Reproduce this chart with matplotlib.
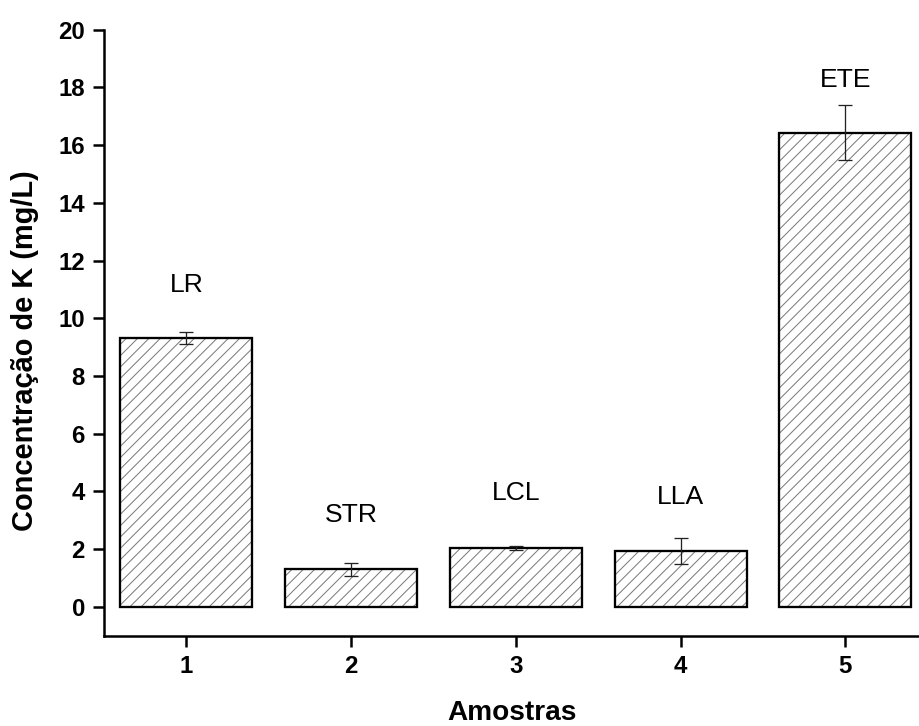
import matplotlib
matplotlib.use("Agg")
import matplotlib.pyplot as plt

# Sample data
amostras = [1, 2, 3, 4, 5]
siglas = ["LR", "STR", "LCL", "LLA", "ETE"]
concentracao_k = [9.32, 1.30, 2.03, 1.93, 16.43]
desvio = [0.21, 0.22, 0.07, 0.45, 0.96]
altura_rotulo = [11.15, 3.18, 3.94, 3.80, 18.25]
yticks = [0, 2, 4, 6, 8, 10, 12, 14, 16, 18, 20]

DPI = 68
W, H = 919, 726


def pt(px):
    return px * 72.0 / DPI


plt.rcParams["font.family"] = ["Liberation Sans", "DejaVu Sans"]
plt.rcParams["hatch.linewidth"] = pt(1.0)

fig = plt.figure(figsize=(W / DPI, H / DPI), dpi=DPI)
ax = fig.add_axes([104 / W, 1 - 635.7 / H, 1 - 104 / W, (635.7 - 29.7) / H])

# hatched fill (grey lines) and black outline drawn separately
ax.bar(amostras, concentracao_k, width=0.8, color="white", edgecolor="#7a7a7a",
       hatch="//", linewidth=0, zorder=2)
ax.bar(amostras, concentracao_k, width=0.8, fill=False, edgecolor="black",
       linewidth=pt(2.3), zorder=3)
ax.errorbar(amostras, concentracao_k, yerr=desvio, fmt="none", ecolor="#222222",
            elinewidth=pt(1.3), capsize=pt(7), capthick=pt(1.3), zorder=4)

for x, s, y in zip(amostras, siglas, altura_rotulo):
    ax.text(x, y, s, ha="center", va="center", fontsize=pt(26.5), color="black")

ax.set_xlim(0.5, 0.5 + (W - 104) / 164.75)
ax.set_ylim(-1, 20)
ax.set_xticks(amostras)
ax.set_yticks(yticks)

for side in ("top", "right"):
    ax.spines[side].set_visible(False)
for side in ("left", "bottom"):
    ax.spines[side].set_linewidth(pt(2.5))

ax.tick_params(axis="both", direction="out", length=pt(11), width=pt(2.5),
               labelsize=pt(24), pad=pt(8))
for lab in ax.get_xticklabels() + ax.get_yticklabels():
    lab.set_fontweight("bold")

# axis titles placed in figure pixels
fig.text(25 / W, 1 - 351 / H, "Concentração de K (mg/L)", rotation=90,
         ha="center", va="center", fontsize=pt(29), fontweight="bold")
fig.text(512 / W, 1 - 713 / H, "Amostras", ha="center", va="center",
         fontsize=pt(28), fontweight="bold")

fig.savefig("out.png", dpi=DPI)
